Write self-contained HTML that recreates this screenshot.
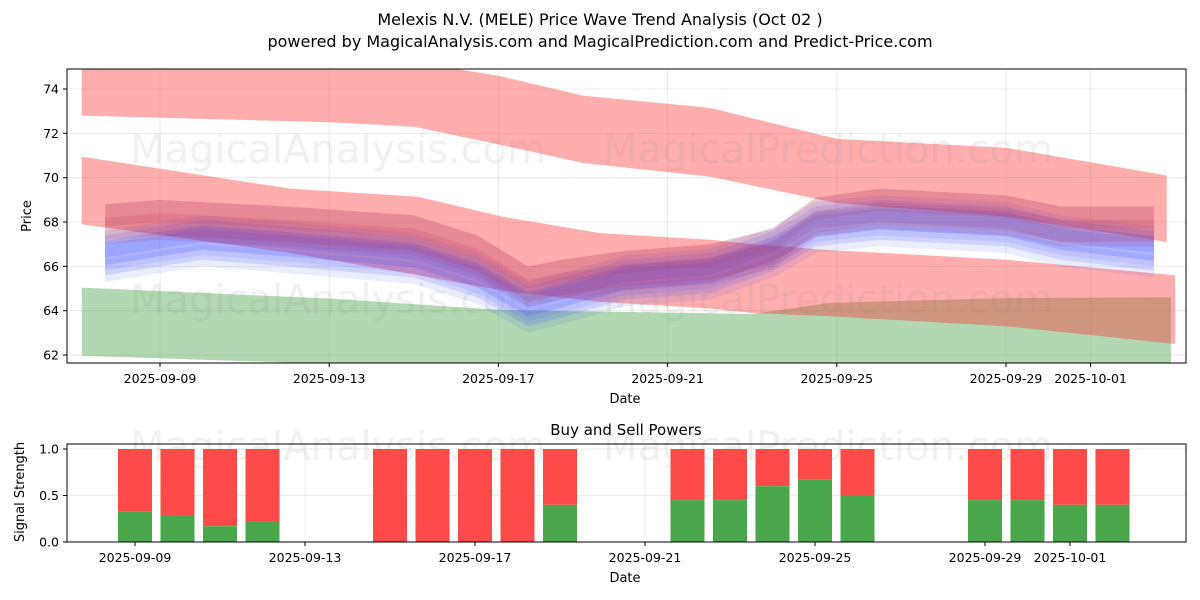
<!DOCTYPE html>
<html><head><meta charset="utf-8"><style>
body{margin:0;background:#fff;}
svg{display:block;font-family:"DejaVu Sans","Liberation Sans",sans-serif;}
</style></head><body>
<svg id="chart" width="1200" height="600" viewBox="0 0 1200 600">
<defs>
<clipPath id="clipTop"><rect x="67" y="69" width="1119" height="294"/></clipPath>
<clipPath id="clipBot"><rect x="67" y="444" width="1119" height="98"/></clipPath>
</defs>
<rect width="1200" height="600" fill="#fff"/>
<text x="600" y="25" text-anchor="middle" font-size="16">Melexis N.V. (MELE) Price Wave Trend Analysis (Oct 02 )</text>
<text x="600" y="47" text-anchor="middle" font-size="16">powered by MagicalAnalysis.com and MagicalPrediction.com and Predict-Price.com</text>
<g id="topGrid"></g>
<g id="topMarks" clip-path="url(#clipTop)"></g>
<g font-size="40" fill="#888" fill-opacity="0.12">
<text x="130" y="163">MagicalAnalysis.com</text>
<text x="603" y="163">MagicalPrediction.com</text>
<text x="130" y="313">MagicalAnalysis.com</text>
<text x="603" y="313">MagicalPrediction.com</text>
</g>
<rect x="67" y="69" width="1119" height="294" fill="none" stroke="#000" stroke-width="1"/>
<g id="topAxes" font-size="12.5"></g>
<text x="625" y="403" text-anchor="middle" font-size="13">Date</text>
<text transform="translate(31,216) rotate(-90)" text-anchor="middle" font-size="13">Price</text>

<text x="626" y="435" text-anchor="middle" font-size="15">Buy and Sell Powers</text>
<g id="botGrid"></g>
<g font-size="40" fill="#888" fill-opacity="0.12">
<text x="130" y="460">MagicalAnalysis.com</text>
<text x="603" y="460">MagicalPrediction.com</text>
</g>
<g id="botMarks" clip-path="url(#clipBot)"></g>
<rect x="67" y="444" width="1119" height="98" fill="none" stroke="#000" stroke-width="1"/>
<g id="botAxes" font-size="12.5"></g>
<text x="625" y="582" text-anchor="middle" font-size="13">Date</text>
<text transform="translate(24,492) rotate(-90)" text-anchor="middle" font-size="13">Signal Strength</text>
</svg>
<script>
// ---- data (days offset from 2025-09-09) ----
const xTickLabels = ["2025-09-09","2025-09-13","2025-09-17","2025-09-21","2025-09-25","2025-09-29","2025-10-01"];
const xTickDays = [0,4,8,12,16,20,22];
const yTickValues = [62,64,66,68,70,72,74];
const sigTickValues = [0,0.5,1.0];

const topBandDays = [-1.85,4,6,8,10,13,16,20,23.8];
const topBandUpper = [75.6,75.4,75.2,74.6,73.7,73.15,71.75,71.35,70.1];
const topBandLower = [72.8,72.5,72.3,71.5,70.66,70.05,68.85,68.25,67.1];

const midBandDays = [-1.85,3.1,6.1,8.1,10.4,13,14,15.8,20,24];
const midBandUpper = [70.95,69.5,69.14,68.24,67.5,67.2,67.0,66.74,66.3,65.6];
const midBandLower = [67.9,66.6,65.6,64.9,64.4,64.1,63.9,63.75,63.3,62.5];

const greenDays = [-1.85,4,8.1,10.4,14,15.8,20,23.9];
const greenUpper = [65.04,64.55,64.03,63.96,63.85,64.35,64.57,64.6];
const greenLower = [61.97,61.6,61.2,61.0,61.0,61.0,61.0,61.0];

const waveDays = [-1.3,0,1,3,6,7.5,8.7,9.5,11,13,14.5,15.5,17,20,21.3,23.5];
const blueWave = [66.6,67.0,67.3,67.0,66.5,65.6,64.3,64.7,65.5,65.8,66.8,67.9,68.2,67.9,67.3,66.8];
const redWave  = [68.0,68.2,68.1,67.9,67.5,66.6,65.2,65.5,65.9,66.2,66.9,68.3,68.7,68.4,67.9,67.9];

const sigDays = [0,1,2,3,6,7,8,9,10,13,14,15,16,17,20,21,22,23];
const buyPower = [0.33,0.28,0.17,0.22,0,0,0,0,0.4,0.45,0.45,0.6,0.67,0.5,0.45,0.45,0.4,0.4];

// ---- scales ----
const NS="http://www.w3.org/2000/svg";
function xTop(d){return 160+42.3*d;}
function yTop(p){return 89+(74-p)*22.17;}
function xBot(d){return 135+42.5*d;}
function yBot(v){return 542-v*93;}
function mk(tag,attrs,parent){const e=document.createElementNS(NS,tag);for(const k in attrs)e.setAttribute(k,attrs[k]);parent.appendChild(e);return e;}

const topGrid=document.getElementById('topGrid'),topMarks=document.getElementById('topMarks'),topAxes=document.getElementById('topAxes');
const botGrid=document.getElementById('botGrid'),botMarks=document.getElementById('botMarks'),botAxes=document.getElementById('botAxes');

// grids & ticks top
yTickValues.forEach(v=>{
  const y=yTop(v);
  const g=mk('line',{x1:67,x2:1186,y1:y,y2:y,stroke:'#b0b0b0','stroke-opacity':0.3,'stroke-width':0.8},topGrid);
  
  
  mk('line',{x1:63,x2:67,y1:y,y2:y,stroke:'#000'},topAxes);
  const t=mk('text',{x:59,y:y+4.5,'text-anchor':'end'},topAxes);t.textContent=v;
  
  
});
xTickDays.forEach((d,i)=>{
  const x=xTop(d);
  const g=mk('line',{x1:x,x2:x,y1:69,y2:363,stroke:'#b0b0b0','stroke-opacity':0.3,'stroke-width':0.8},topGrid);
  
  
  mk('line',{x1:x,x2:x,y1:363,y2:367,stroke:'#000'},topAxes);
  const t=mk('text',{x:x,y:383,'text-anchor':'middle'},topAxes);t.textContent=xTickLabels[i];
  
  
  const xb=xBot(d);
  const g2=mk('line',{x1:xb,x2:xb,y1:444,y2:542,stroke:'#b0b0b0','stroke-opacity':0.3,'stroke-width':0.8},botGrid);
  
  
  mk('line',{x1:xb,x2:xb,y1:542,y2:546,stroke:'#000'},botAxes);
  const t2=mk('text',{x:xb,y:562,'text-anchor':'middle'},botAxes);t2.textContent=xTickLabels[i];
  
  
});
sigTickValues.forEach(v=>{
  const y=yBot(v);
  const g=mk('line',{x1:67,x2:1186,y1:y,y2:y,stroke:'#b0b0b0','stroke-opacity':0.3,'stroke-width':0.8},botGrid);
  
  
  mk('line',{x1:63,x2:67,y1:y,y2:y,stroke:'#000'},botAxes);
  const t=mk('text',{x:59,y:y+4.5,'text-anchor':'end'},botAxes);t.textContent=v.toFixed(1);
  
  
});

function band(days,up,lo,fill,op,name){
  let pts=days.map((d,i)=>xTop(d)+','+yTop(up[i]));
  for(let i=days.length-1;i>=0;i--)pts.push(xTop(days[i])+','+yTop(lo[i]));
  const p=mk('polygon',{points:pts.join(' '),fill:fill,'fill-opacity':op},topMarks);
  
  
}
band(greenDays,greenUpper,greenLower,'#3c9e3c',0.4,'support-band');
band(topBandDays,topBandUpper,topBandLower,'#ff3333',0.4,'upper-resistance-band');
band(midBandDays,midBandUpper,midBandLower,'#ff3333',0.4,'lower-resistance-band');

const blueSpecs=[[0,0.55,0.2],[-0.3,0.7,0.15],[0.3,0.5,0.15],[-0.8,0.5,0.1],[0.1,0.9,0.1]];
blueSpecs.forEach(s=>{
  band(waveDays,blueWave.map(v=>v+s[0]+s[1]),blueWave.map(v=>v+s[0]-s[1]),'#3344ff',s[2],'blue-wave-band');
});
const redSpecs=[[0,0.8,0.18],[-0.4,0.6,0.15],[0.3,0.5,0.12]];
redSpecs.forEach(s=>{
  band(waveDays,redWave.map(v=>v+s[0]+s[1]),redWave.map(v=>v+s[0]-s[1]),'#b03060',s[2],'red-wave-band');
});

// bars
sigDays.forEach((d,i)=>{
  const x=xBot(d)-17;
  const r=mk('rect',{x:x,y:yBot(1),width:34,height:yBot(buyPower[i])-yBot(1),fill:'#ff4a4a'},botMarks);
  
  
  const g=mk('rect',{x:x,y:yBot(buyPower[i]),width:34,height:yBot(0)-yBot(buyPower[i]),fill:'#4aa64a'},botMarks);
  
  
});
</script>
</body></html>
